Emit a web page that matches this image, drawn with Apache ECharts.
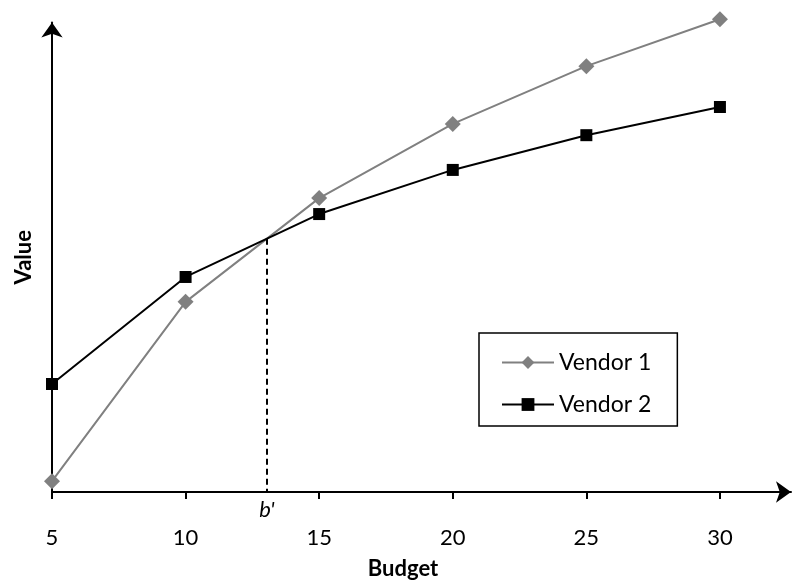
<!DOCTYPE html>
<html>
<head>
<meta charset="utf-8">
<script src="https://cdn.jsdelivr.net/npm/echarts@6/dist/echarts.min.js"></script>
<style>html,body{margin:0;padding:0;background:#fff}#c{width:792px;height:580px}</style>
</head>
<body>
<div id="c"></div>
<script>
const budgets = [5, 10, 15, 20, 25, 30];
const vendor1 = [2.3, 40.5, 62.6, 78.4, 90.7, 100.7];
const vendor2 = [23.0, 45.8, 59.2, 68.6, 76.0, 82.0];
const xTicks = [5, 10, 15, 20, 25, 30];
const seriesNames = ['Vendor 1', 'Vendor 2'];

// crossing point between budget 10 and 15
const i = 1;
const d0 = vendor1[i] - vendor2[i], d1 = vendor1[i + 1] - vendor2[i + 1];
const t = d0 / (d0 - d1);
const bx = budgets[i] + t * (budgets[i + 1] - budgets[i]);
const by = vendor1[i] + t * (vendor1[i + 1] - vendor1[i]);

const font = 'Lato, "Open Sans", sans-serif';
const chart = echarts.init(document.getElementById('c'), null, {renderer: 'canvas'});
chart.setOption({
  animation: false,
  grid: {left: 52, right: 1, top: 22.5, bottom: 88, containLabel: false},
  xAxis: {
    type: 'value', min: 5, max: 32.66,
    axisLine: {show: true, onZero: false, symbol: ['none', 'arrow'], symbolSize: [16, 15], lineStyle: {color: '#000', width: 2}},
    axisTick: {show: true, length: 7, lineStyle: {color: '#000', width: 2}, customValues: xTicks},
    axisLabel: {show: true, margin: 35, fontSize: 22, color: '#000', fontFamily: font, customValues: xTicks},
    splitLine: {show: false}
  },
  yAxis: {
    type: 'value', min: 0, max: 100,
    name: 'Value', nameLocation: 'middle', nameGap: 17, nameRotate: 90,
    nameTextStyle: {fontSize: 22, fontWeight: 'bold', color: '#000', fontFamily: font},
    axisLine: {show: true, symbol: ['none', 'arrow'], symbolSize: [16, 15], lineStyle: {color: '#000', width: 2}},
    axisTick: {show: false}, axisLabel: {show: false}, splitLine: {show: false}
  },
  legend: {
    orient: 'vertical', left: 479, top: 333,
    padding: [18, 26, 10, 22], itemGap: 19, itemWidth: 52, itemHeight: 16,
    borderColor: '#000', borderWidth: 1.5,
    textStyle: {fontSize: 23, color: '#000', fontFamily: font},
    data: seriesNames
  },
  graphic: [{
    type: 'text', x: 403, y: 569,
    style: {text: 'Budget', fontSize: 22, fontWeight: 'bold', fill: '#000', fontFamily: font, align: 'center', verticalAlign: 'middle'}
  }],
  series: [
    {
      name: seriesNames[0], type: 'line', clip: false,
      data: budgets.map((b, k) => [b, vendor1[k]]),
      symbol: 'diamond', symbolSize: 16,
      itemStyle: {color: '#808080'}, lineStyle: {color: '#808080', width: 2},
      z: 2
    },
    {
      name: seriesNames[1], type: 'line', clip: false,
      data: budgets.map((b, k) => [b, vendor2[k]]),
      symbol: 'rect', symbolSize: 12,
      itemStyle: {color: '#000'}, lineStyle: {color: '#000', width: 2},
      z: 3,
      markLine: {
        silent: true, symbol: 'none', animation: false,
        lineStyle: {color: '#000', width: 2, type: [6, 4]},
        label: {show: true, position: 'end', distance: 7, formatter: "b'", fontStyle: 'italic', fontSize: 22, color: '#000', fontFamily: font},
        data: [[{coord: [bx, by]}, {coord: [bx, 0]}]]
      }
    }
  ]
});
</script>
</body>
</html>
